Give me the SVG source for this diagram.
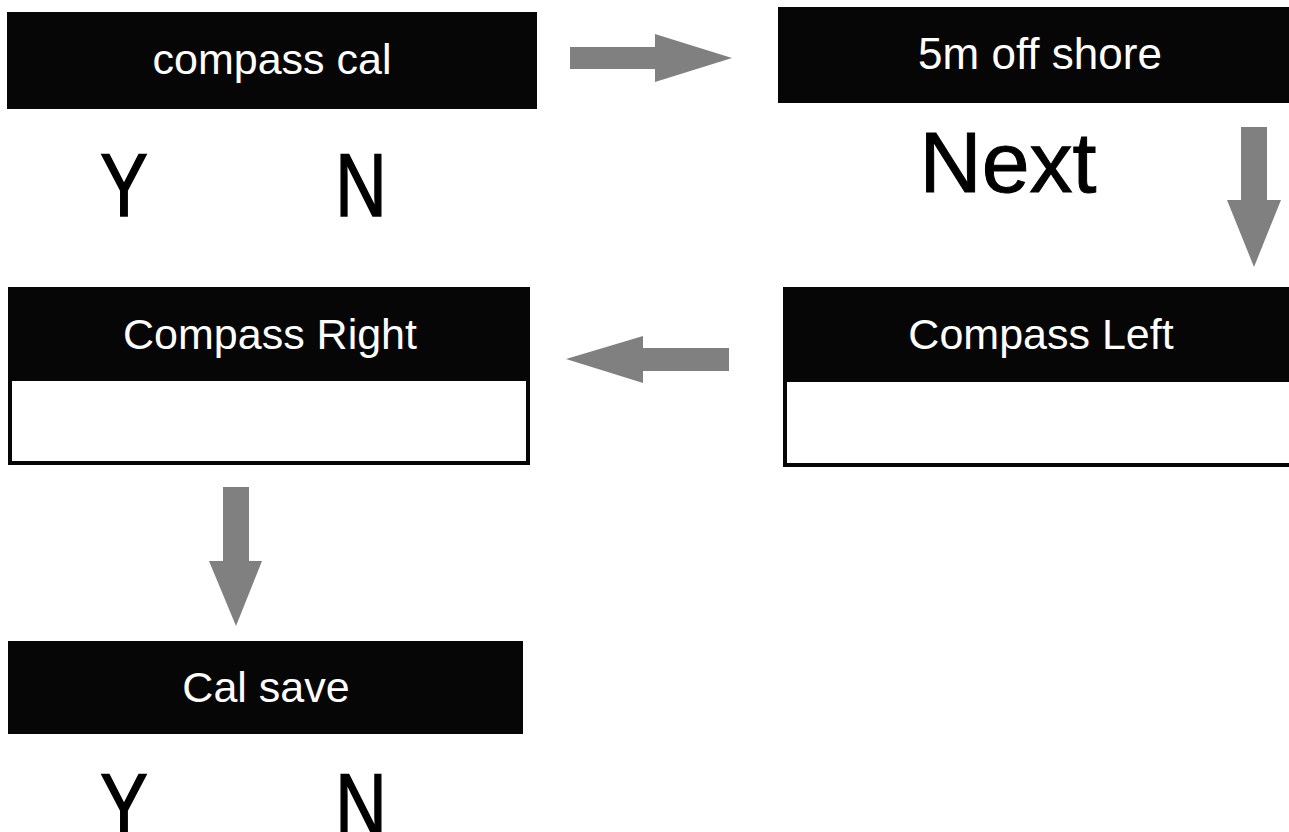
<svg xmlns="http://www.w3.org/2000/svg" width="1289" height="832" viewBox="0 0 1289 832">
<style>
.hdr{fill:#060606}
.frame{fill:#fff;stroke:#060606;stroke-width:4}
.lbl{font-family:"Liberation Sans",Arial,sans-serif;font-size:43px;fill:#fff;text-anchor:middle}
.big{font-family:"Liberation Sans",Arial,sans-serif;font-size:89px;fill:#000;stroke:#000;stroke-width:1.6;text-anchor:middle}
.arrow{fill:#808080}
</style>
<rect width="1289" height="832" fill="#fff"/>
<g id="node-compass-cal">
<rect class="hdr" x="7" y="12" width="530" height="97"/>
<text class="lbl" x="272" y="74">compass cal</text>
<text class="big" transform="translate(124,216) scale(0.8,1)">Y</text>
<text class="big" transform="translate(361,216) scale(0.8,1)">N</text>
</g>
<g id="node-5m-off-shore">
<rect class="hdr" x="778" y="7" width="520" height="96"/>
<text class="lbl" x="1040" y="69" style="font-size:44px">5m off shore</text>
<text class="big" x="1008" y="192" style="font-size:86px;stroke-width:1">Next</text>
</g>
<g id="node-compass-left">
<rect class="frame" x="785" y="289" width="520" height="176"/>
<rect class="hdr" x="783" y="287" width="520" height="95"/>
<text class="lbl" x="1041" y="349">Compass Left</text>
</g>
<g id="node-compass-right">
<rect class="frame" x="10" y="289" width="518" height="174"/>
<rect class="hdr" x="8" y="287" width="522" height="94"/>
<text class="lbl" x="270" y="349">Compass Right</text>
</g>
<g id="node-cal-save">
<rect class="hdr" x="8" y="641" width="515" height="93"/>
<text class="lbl" x="266" y="702">Cal save</text>
<text class="big" transform="translate(124,836) scale(0.8,1)">Y</text>
<text class="big" transform="translate(361,836) scale(0.8,1)">N</text>
</g>
<g id="connectors">
<polygon class="arrow" points="570,47 655,47 655,34 732,58 655,82 655,69 570,69"/>
<polygon class="arrow" points="1241,127 1267,127 1267,200 1281,200 1254,267 1227,200 1241,200"/>
<polygon class="arrow" points="729,348 643,348 643,336 566,359 643,383 643,371 729,371"/>
<polygon class="arrow" points="223,487 249,487 249,561 262,561 236,626 209,561 223,561"/>
</g>
</svg>
